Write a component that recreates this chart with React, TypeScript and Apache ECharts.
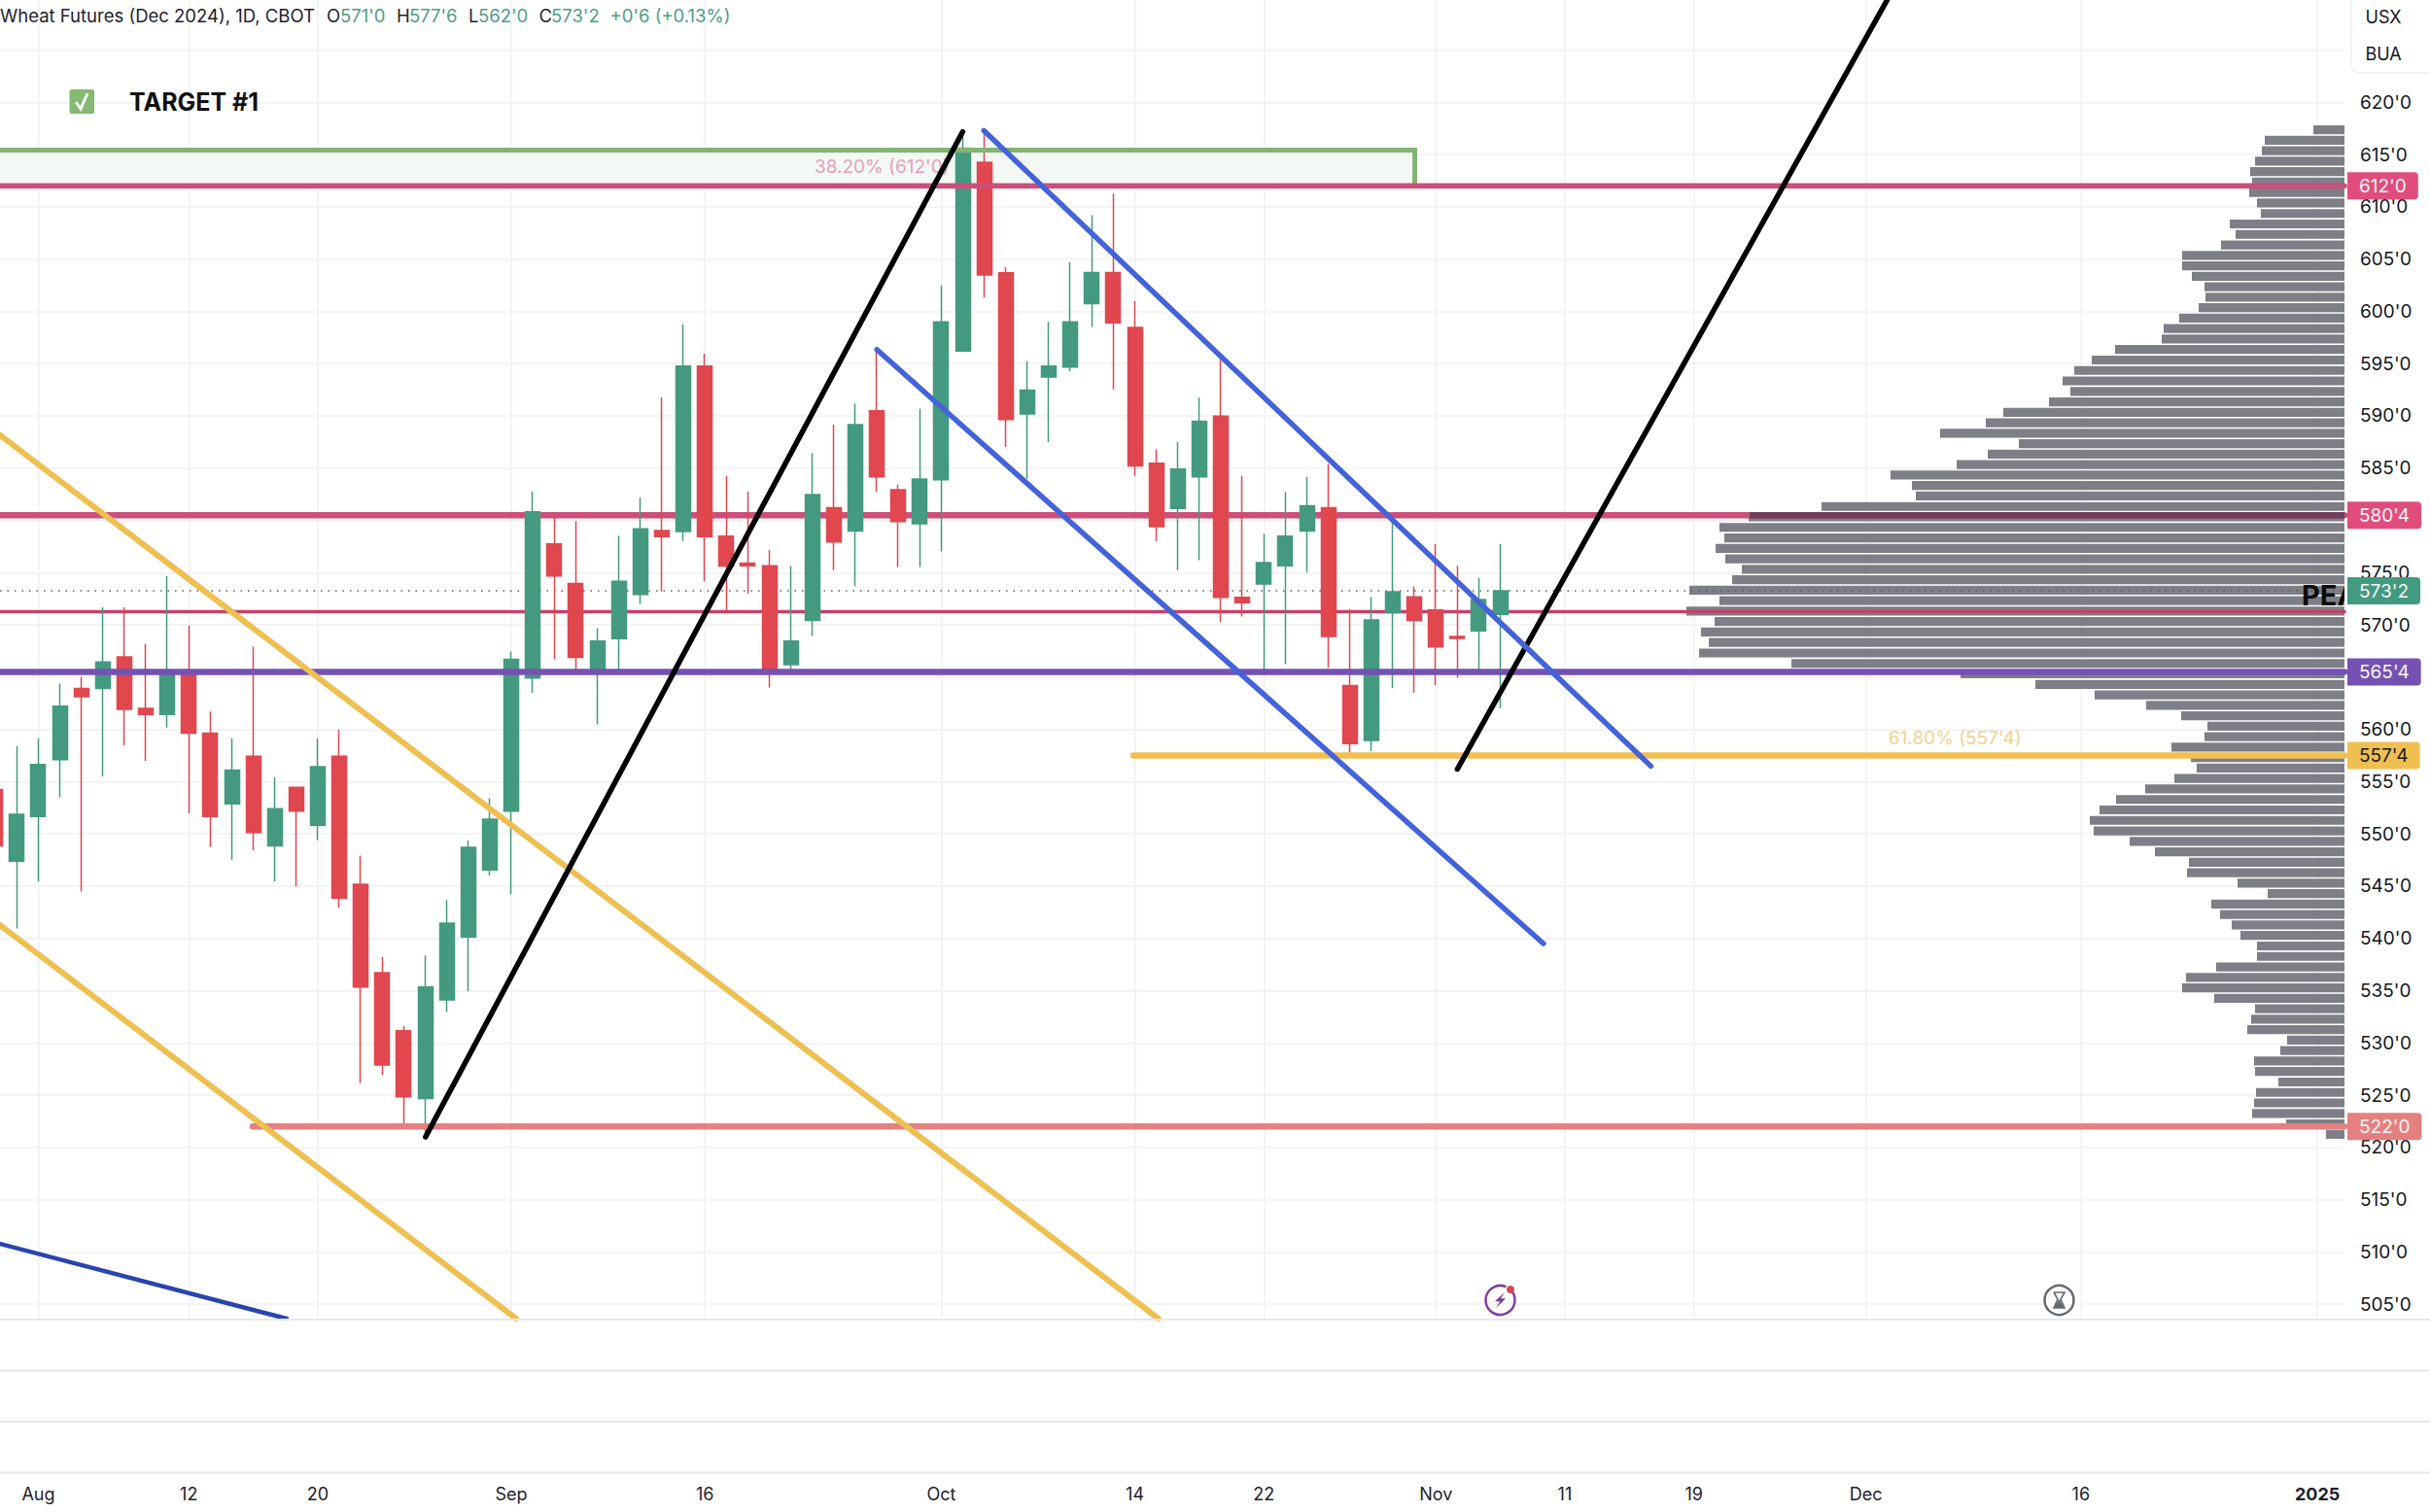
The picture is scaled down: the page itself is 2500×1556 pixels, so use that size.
import React, { useEffect, useRef } from "react";
import * as echarts from "echarts";

const FONT = "Inter, 'Noto Sans', sans-serif";
const GREEN = "#449a80";
const RED = "#e0474f";
const PINK = "#cc4f7b";
const PURPLE = "#7452b3";
const YELLOW = "#f0bf52";
const SALMON = "#e58080";
const TREND_YELLOW = "#eec052";
const BLUE = "#4463d8";

// Candle values, bar 0 is the partly hidden left-most bar
const opens = [554.24,547.39,551.67,557.11,563.91,563.91,566.94,562,561.42,565.45,559.64,552.87,557.44,548.85,554.45,550.84,557.44,545.19,536.72,531.16,524.69,534.11,540.13,546.56,552.17,564.91,577.74,573.96,565.45,568.69,572.92,579.02,578.94,594.77,578.48,575.91,575.66,566.19,570.43,581.22,578.98,590.48,582.92,579.68,583.88,596.2,614.26,603.68,590.19,593.72,594.67,600.73,603.72,598.45,585.46,581.14,584.17,589.98,572.63,573.91,575.66,578.98,581.22,564.2,558.93,571.17,572.67,571.42,568.9,569.43,571];
const closes = [548.85,551.88,556.65,562.21,563.13,566.45,561.92,561.42,565.66,559.64,551.67,556.11,550.13,552.42,552.17,556.44,543.86,535.36,527.88,524.85,535.36,541.46,548.72,551.42,566.7,580.81,574.67,566.9,568.44,574.17,579.19,578.44,594.77,578.44,575.62,575.66,565.45,568.44,582.47,577.94,589.15,584.17,579.89,583.96,598.99,615.6,603.47,589.65,592.47,594.75,598.99,603.72,598.9,585.2,579.39,584.9,589.48,572.63,572.13,575.95,578.48,581.39,568.89,558.64,570.47,573.17,570.43,567.9,568.7,572.42,573.25];
const lows = [546,540.96,545.44,553.5,544.49,555.49,558.48,556.98,560.18,551.96,548.76,547.52,548.43,545.44,544.98,549.39,542.95,526.14,526.93,522.03,521,532.95,534.94,546.02,544.2,563.5,566.7,565.66,560.47,565.66,572,573.2,578.03,574.17,571.26,573,564,565.7,568.93,575.24,573.71,582.72,575.53,575.53,577.03,596.2,601.31,587.03,583.96,587.49,594.25,598.49,592.55,584.25,578.02,575.24,576.2,570.26,570.8,565.7,566.24,575,565.9,557.6,557.93,563.95,563.5,564.24,564.95,565.7,562];
const highs = [555.5,558.39,559.14,564.37,565.04,571.68,571.68,568.19,574.67,569.93,561.71,559.14,567.94,555.4,554.45,559.14,559.97,547.93,538.22,531.62,538.38,543.66,549.39,553.41,567.44,582.76,580.39,579.9,569.68,578.53,582.18,591.76,598.73,595.95,584.23,582.76,577.16,575.66,586.45,589.15,591.18,596.33,583.42,590.68,602.47,617,617.17,604.22,595.25,598.99,604.72,609.2,611.27,600.98,586.78,587.49,591.76,595.58,584.25,578.69,582.71,584.17,585.41,571.5,572.67,579.81,573.67,577.73,575.66,574.49,577.75];

// Volume profile, top row (about 617'3) to bottom row (about 521'2)
const vpVolumes = [32,82,85,92,97,95,98,90,86,118,112,127,167,167,157,144,143,150,170,186,188,236,260,278,290,282,304,351,369,416,335,367,399,467,445,441,538,613,643,638,647,637,620,630,674,643,677,648,662,654,664,569,395,318,257,204,168,141,144,178,158,152,175,205,235,252,262,258,221,195,160,162,110,79,137,128,116,107,90,90,132,163,167,134,92,96,100,59,66,93,92,68,91,93,95,60,19];
const vpRows = vpVolumes.map((_, i) => String(i));

// Axes
const xMin = 0.217;
const xMax = 109.26;
const yMin = 503.62;
const yMax = 629.79;
const xTickIndex = [2, 9, 15, 24, 33, 44, 53, 59, 67, 73, 79, 87, 97, 108];
const xTickLabels = ["Aug", "12", "20", "Sep", "16", "Oct", "14", "22", "Nov", "11", "19", "Dec", "16", "2025"];
const yGridValues = [505,510,515,520,525,530,535,540,545,550,555,560,565,570,575,580,585,590,595,600,605,610,615,620,625];
const yLabelValues = yGridValues.slice(0, -1);

// Drawn lines as [bar index, price]
const yellowUpper = [[-1, 590.06], [54.1, 503.62]];
const yellowLower = [[-1, 543.18], [24.22, 503.62]];
const darkBlue = [[-1, 511.43], [13.55, 503.62]];
const blackA = [[20.01, 521.01], [44.99, 617.17]];
const blackB = [[68.0, 556.2], [87.99, yMax]];
const blueA = [[45.98, 617.29], [77.0, 556.49]];
const blueB = [[41.0, 596.34], [72.0, 539.51]];
const targetBox = [[xMin, 615.43], [66.02, 615.43], [66.02, 612]];

const priceTexts = [
  { at: [38.1, 613.85], text: "38.20% (612'0)", color: "#e6a0ba", size: 19, weight: 400 },
  { at: [88.05, 559.2], text: "61.80% (557'4)", color: "#f1d390", size: 19, weight: 400 },
];
const peakText = { at: [107.27, 572.8], text: "PEA" };

const baseLine = (
  name: string,
  data: number[][],
  color: string,
  width: number,
  z: number,
  extra: any = {}
) => ({
  name,
  type: "line",
  xAxisIndex: 0,
  yAxisIndex: 0,
  data,
  symbol: "none",
  silent: true,
  z,
  clip: true,
  lineStyle: { color, width, cap: "round", ...(extra.lineStyle || {}) },
  ...Object.fromEntries(Object.entries(extra).filter(([k]) => k !== "lineStyle")),
});

const tag = (text: string, bg: string, color = "#fdf6f8") => ({
  endLabel: {
    show: true,
    formatter: text,
    distance: 3,
    color,
    fontFamily: FONT,
    fontSize: 19,
    backgroundColor: bg,
    borderRadius: [0, 4, 4, 0],
    padding: [5, 12, 4, 12],
  },
});

const level = (
  name: string,
  price: number,
  from: number,
  color: string,
  width: number,
  z: number,
  extra: any = {}
) =>
  baseLine(name, [[from, price], [xMax, price]], color, width, z, extra);

const headerParts = [
  { x: 0, text: "Wheat Futures (Dec 2024), 1D, CBOT", color: "#1e222d" },
  { x: 336, text: "O", color: "#1e222d" },
  { x: 350, text: "571'0", color: "#4f9d86" },
  { x: 408, text: "H", color: "#1e222d" },
  { x: 421, text: "577'6", color: "#4f9d86" },
  { x: 482, text: "L", color: "#1e222d" },
  { x: 492, text: "562'0", color: "#4f9d86" },
  { x: 554.6, text: "C", color: "#1e222d" },
  { x: 567, text: "573'2", color: "#4f9d86" },
  { x: 627.5, text: "+0'6 (+0.13%)", color: "#4f9d86" },
];

function buildOption() {
  const graphic: any[] = [
    ...headerParts.map((p) => ({
      type: "text",
      x: p.x,
      y: 16,
      z: 50,
      style: { text: p.text, fill: p.color, fontFamily: FONT, fontSize: 18.5, verticalAlign: "middle" },
    })),
    { type: "rect", z: 50, shape: { x: 71.5, y: 92, width: 25.5, height: 25, r: 2 }, style: { fill: "#85b870" } },
    { type: "polyline", z: 51, shape: { points: [[78, 105], [83, 112], [90, 96]] }, style: { stroke: "#fff", lineWidth: 3, fill: "none" } },
    { type: "text", z: 50, x: 133, y: 105, style: { text: "TARGET #1", fill: "#111", fontFamily: FONT, fontWeight: 700, fontSize: 25, verticalAlign: "middle" } },
    // unit box
    { type: "rect", z: 40, shape: { x: 2419, y: -10, width: 100, height: 85, r: 8 }, style: { fill: "#fff", stroke: "#efefef", lineWidth: 1.5 } },
    { type: "text", z: 50, x: 2452, y: 17, style: { text: "USX", fill: "#131722", fontFamily: FONT, fontSize: 18, align: "center", verticalAlign: "middle" } },
    { type: "text", z: 50, x: 2452, y: 55, style: { text: "BUA", fill: "#131722", fontFamily: FONT, fontSize: 18, align: "center", verticalAlign: "middle" } },
    // pane separators
    ...[1358, 1410.5, 1463, 1515.5].map((y) => ({
      type: "line",
      z: 10,
      shape: { x1: 0, y1: y, x2: 2500, y2: y },
      style: { stroke: "#e6e7e9", lineWidth: 2 },
    })),
    // lightning icon
    { type: "arc", z: 50, shape: { cx: 1543.5, cy: 1338, r: 15, startAngle: -0.9, endAngle: -1.15, clockwise: true }, style: { stroke: "#7d3fa0", lineWidth: 2.5, fill: "none" } },
    { type: "polygon", z: 50, shape: { points: [[1548, 1330], [1538, 1339], [1543, 1339.5], [1539, 1346], [1549, 1336.5], [1544, 1336]] }, style: { fill: "#7d3fa0" } },
    { type: "circle", z: 51, shape: { cx: 1554, cy: 1327, r: 4 }, style: { fill: "#d0474f" } },
    // hourglass icon
    { type: "circle", z: 50, shape: { cx: 2118.5, cy: 1338, r: 15 }, style: { stroke: "#666a70", lineWidth: 2.5, fill: "#fff" } },
    { type: "polyline", z: 51, shape: { points: [[2113, 1330], [2124, 1330], [2120, 1337], [2124, 1346], [2113, 1346], [2117, 1337], [2113, 1330]] }, style: { stroke: "#666a70", lineWidth: 1.6, fill: "none" } },
    { type: "polygon", z: 51, shape: { points: [[2118.5, 1337], [2124, 1346], [2113, 1346]] }, style: { fill: "#666a70" } },
  ];

  return {
    animation: false,
    backgroundColor: "#ffffff",
    grid: [
      { left: 0, top: 0, width: 2412, height: 1357 },
      { left: 1612, top: 128.2, width: 800, height: 1044.5 },
    ],
    xAxis: [
      {
        type: "value",
        gridIndex: 0,
        min: xMin,
        max: xMax,
        axisLine: { show: false },
        axisTick: { show: false, customValues: xTickIndex },
        splitLine: { show: true, lineStyle: { color: "#f0f1f4", width: 1.5 } },
        axisLabel: {
          show: true,
          customValues: xTickIndex,
          margin: 171,
          color: "#1e222d",
          fontFamily: FONT,
          fontSize: 18,
          hideOverlap: false,
          formatter: (v: number) => {
            const t = xTickLabels[xTickIndex.indexOf(v)] ?? "";
            return t === "2025" ? "{b|2025}" : t;
          },
          rich: { b: { fontWeight: 700, fontSize: 18, fontFamily: FONT, color: "#1e222d" } },
        },
      },
      { type: "value", gridIndex: 1, min: 0, max: 800, inverse: true, show: false, splitLine: { show: false } },
    ],
    yAxis: [
      {
        type: "value",
        gridIndex: 0,
        position: "right",
        min: yMin,
        max: yMax,
        axisLine: { show: false },
        axisTick: { show: false, customValues: yGridValues },
        splitLine: { show: true, lineStyle: { color: "#f0f1f4", width: 1.5 } },
        axisLabel: {
          show: true,
          customValues: yLabelValues,
          margin: 16,
          color: "#131722",
          fontFamily: FONT,
          fontSize: 19,
          formatter: (v: number) => `${v}'0`,
        },
      },
      { type: "category", gridIndex: 1, data: vpRows, inverse: true, show: false },
    ],
    graphic,
    series: [
      {
        name: "Volume profile",
        type: "bar",
        xAxisIndex: 1,
        yAxisIndex: 1,
        data: vpVolumes,
        barWidth: 9.2,
        silent: true,
        z: 1,
        itemStyle: { color: "#7e7f86" },
      },
      baseLine("Target zone", [[xMin, 612], [66.02, 612]], "rgba(0,0,0,0)", 0, 1, {
        markArea: {
          silent: true,
          itemStyle: { color: "#f4f9f5" },
          data: [[{ xAxis: xMin, yAxis: 615.43 }, { xAxis: 66.02, yAxis: 612 }]],
        },
      }),
      level("Last price", 573.25, xMin, "#5a5e66", 1.5, 1, { lineStyle: { type: [1.5, 6], cap: "butt" }, ...tag("573'2", "#429a81") }),
      level("580'4", 580.5, xMin, PINK, 6.5, 2, tag("580'4", "#e04d7d")),
      level("571'2", 571.25, xMin, "#c6406a", 3.5, 2),
      {
        name: "Wheat",
        type: "candlestick",
        xAxisIndex: 0,
        yAxisIndex: 0,
        data: opens.map((o, i) => [i, o, closes[i], lows[i], highs[i]]),
        barWidth: 15.5,
        silent: true,
        z: 3,
        itemStyle: { color: GREEN, color0: RED, borderColor: GREEN, borderColor0: RED, borderWidth: 1.5 },
      },
      baseLine("Target box", targetBox, "#82b573", 5, 4, { lineStyle: { cap: "butt", join: "miter" } }),
      level("612'0", 612, xMin, PINK, 5.5, 4, tag("612'0", "#e04d7d")),
      baseLine("580'4 over profile", [[81.6, 580.5], [xMax, 580.5]], "#6f3f5c", 6.5, 4, { lineStyle: { cap: "butt" } }),
      level("565'4", 565.5, xMin, PURPLE, 6.5, 4, tag("565'4", PURPLE)),
      level("557'4", 557.5, 52.93, YELLOW, 6.5, 4, tag("557'4", YELLOW, "#1a1a1a")),
      level("522'0", 522, 11.97, SALMON, 6.5, 4, tag("522'0", SALMON)),
      baseLine("Channel upper", yellowUpper, TREND_YELLOW, 6, 4),
      baseLine("Channel lower", yellowLower, TREND_YELLOW, 6, 4),
      baseLine("Long trend", darkBlue, "#2945ad", 4.5, 4),
      baseLine("Rise A", blackA, "#000", 5.5, 5),
      baseLine("Rise B", blackB, "#000", 5.5, 5),
      baseLine("Fall A", blueA, BLUE, 5.5, 5),
      baseLine("Fall B", blueB, BLUE, 5.5, 5),
      {
        name: "Level notes",
        type: "custom",
        xAxisIndex: 0,
        yAxisIndex: 0,
        silent: true,
        z: 4,
        clip: false,
        data: priceTexts.map((t) => t.at),
        renderItem: (params: any, api: any) => {
          const t = priceTexts[params.dataIndex];
          const p = api.coord([api.value(0), api.value(1)]);
          return {
            type: "text",
            x: p[0],
            y: p[1],
            style: { text: t.text, fill: t.color, fontFamily: FONT, fontSize: t.size, fontWeight: t.weight, verticalAlign: "middle" },
          };
        },
      },
      {
        name: "Peak note",
        type: "custom",
        xAxisIndex: 0,
        yAxisIndex: 0,
        silent: true,
        z: 6,
        clip: true,
        data: [peakText.at],
        renderItem: (_: any, api: any) => {
          const p = api.coord([api.value(0), api.value(1)]);
          return {
            type: "text",
            x: p[0],
            y: p[1],
            style: { text: peakText.text, fill: "#0c0c0c", fontFamily: FONT, fontSize: 29, fontWeight: 700, verticalAlign: "middle" },
          };
        },
      },
    ],
  };
}

export default function App() {
  const ref = useRef<HTMLDivElement>(null);
  useEffect(() => {
    document.body.style.margin = "0";
    const chart = echarts.init(ref.current!, undefined, { renderer: "svg" });
    chart.setOption(buildOption() as any);
    return () => chart.dispose();
  }, []);
  return <div ref={ref} style={{ width: 2500, height: 1556, position: "absolute", left: 0, top: 0 }} />;
}
